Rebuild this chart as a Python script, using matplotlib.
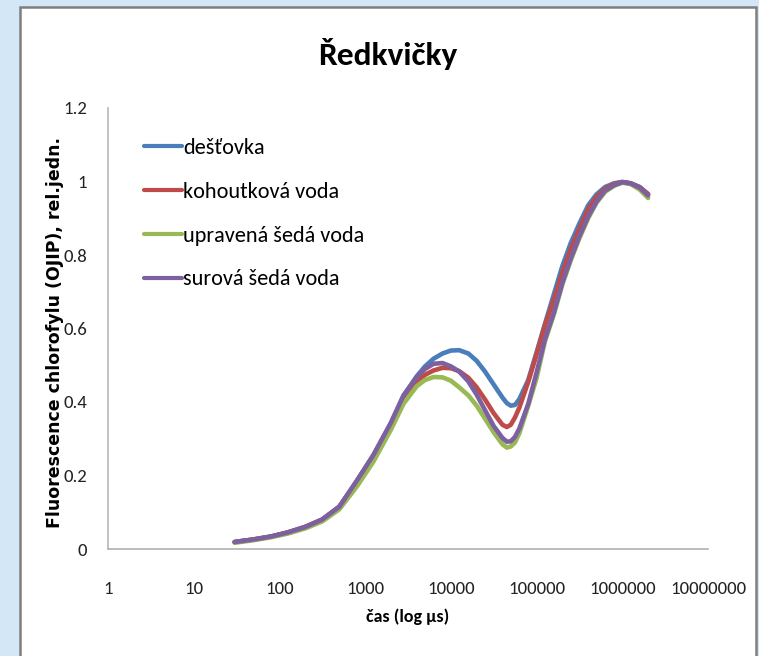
import numpy as np
import matplotlib
matplotlib.use('Agg')
from matplotlib import pyplot as plt
from matplotlib.patches import Rectangle

plt.rcParams['font.family'] = ['Carlito', 'Liberation Sans', 'DejaVu Sans']

# time (us) and relative fluorescence
time_us = [30, 50, 80, 125, 200, 315, 500, 800, 1250, 2000, 2800, 4000, 5000, 6300, 8000,
           10000, 12500, 16000, 20000, 25000, 31500, 40000, 45000, 50000, 56000, 63000,
           80000, 100000, 125000, 160000, 200000, 250000, 315000, 400000, 500000, 630000,
           800000, 1000000, 1250000, 1600000, 2000000]

destovka = [0.019, 0.026, 0.034, 0.045, 0.060, 0.080, 0.115, 0.184, 0.255, 0.342, 0.416,
            0.470, 0.497, 0.518, 0.532, 0.540, 0.541, 0.532, 0.512, 0.483, 0.448, 0.412,
            0.397, 0.390, 0.392, 0.408, 0.460, 0.535, 0.612, 0.695, 0.770, 0.832, 0.885,
            0.935, 0.965, 0.985, 0.995, 0.999, 0.995, 0.985, 0.965]

kohoutkova = [0.019, 0.026, 0.034, 0.045, 0.060, 0.080, 0.115, 0.184, 0.254, 0.340, 0.410,
              0.455, 0.474, 0.486, 0.493, 0.492, 0.484, 0.466, 0.440, 0.407, 0.370, 0.338,
              0.332, 0.338, 0.358, 0.385, 0.455, 0.530, 0.608, 0.680, 0.752, 0.815, 0.870,
              0.925, 0.958, 0.980, 0.993, 0.998, 0.995, 0.984, 0.966]

upravena = [0.017, 0.024, 0.032, 0.042, 0.056, 0.075, 0.108, 0.170, 0.238, 0.325, 0.395,
            0.443, 0.460, 0.468, 0.467, 0.458, 0.440, 0.418, 0.390, 0.355, 0.318, 0.285,
            0.276, 0.279, 0.290, 0.315, 0.390, 0.465, 0.565, 0.640, 0.720, 0.785, 0.845,
            0.900, 0.942, 0.972, 0.988, 0.997, 0.993, 0.978, 0.955]

surova = [0.019, 0.026, 0.034, 0.045, 0.060, 0.080, 0.115, 0.186, 0.256, 0.344, 0.418,
          0.468, 0.490, 0.504, 0.506, 0.497, 0.483, 0.456, 0.420, 0.378, 0.335, 0.302,
          0.292, 0.293, 0.305, 0.328, 0.395, 0.480, 0.570, 0.645, 0.725, 0.790, 0.850,
          0.905, 0.945, 0.975, 0.990, 0.998, 0.995, 0.983, 0.962]

labels = ['dešťovka', 'kohoutková voda', 'upravená šedá voda', 'surová šedá voda']
colors = ['#4A7EBB', '#BE4B48', '#98B954', '#7D60A0']
xticks = [1, 10, 100, 1000, 10000, 100000, 1000000, 10000000]
yticks = [0, 0.2, 0.4, 0.6, 0.8, 1, 1.2]

fig = plt.figure(figsize=(7.59, 6.56), dpi=100)
fig.patch.set_facecolor('#d3e7f7')

# white chart area with grey frame
fig.patches.append(Rectangle((20 / 759, -0.01), 736 / 759, 1 - 7 / 656 + 0.01,
                             transform=fig.transFigure, facecolor='white',
                             edgecolor='#7f7f7f', linewidth=1.8, zorder=-10))

ax = fig.add_axes([108 / 759, 107 / 656, 600 / 759, 441 / 656])
ax.set_facecolor('none')

for v, lab, c in zip([destovka, kohoutkova, upravena, surova], labels, colors):
    ax.plot(time_us, v, color=c, lw=3.3, label=lab, solid_capstyle='round',
            solid_joinstyle='round')

ax.set_xscale('log')
ax.set_xlim(1, 10000000)
ax.set_ylim(0, 1.2)
ax.set_xticks(xticks)
ax.set_xticklabels([str(x) for x in xticks])
ax.minorticks_off()
ax.set_yticks(yticks)
ax.set_yticklabels(['0', '0.2', '0.4', '0.6', '0.8', '1', '1.2'])
ax.tick_params(axis='both', length=0, labelsize=13.5, colors='#222222')
ax.tick_params(axis='x', pad=23)
ax.tick_params(axis='y', pad=15)

for s in ['top', 'right']:
    ax.spines[s].set_visible(False)
ax.spines['left'].set_color('#b8b8b8')
ax.spines['bottom'].set_color('#b0b0b0')
ax.spines['left'].set_linewidth(1.2)
ax.spines['bottom'].set_linewidth(1.2)

ax.set_xlabel('čas (log µs)', fontsize=13, fontweight='bold')
ax.xaxis.set_label_coords(0.5, -0.135)
ax.set_ylabel('Fluorescence chlorofylu (OJIP), rel.jedn.', fontsize=12.5, fontweight='bold',
              family=['DejaVu Sans'])
ax.yaxis.set_label_coords(-0.074, 0.49)

fig.text(388 / 759, 1 - 54 / 656, 'Ředkvičky', fontsize=24, fontweight='bold',
         ha='center', va='center')

leg = ax.legend(loc='upper left', bbox_to_anchor=(144 / 759, 1 - 138 / 656),
                bbox_transform=fig.transFigure, frameon=False, fontsize=16,
                handlelength=1.72, handletextpad=0.05, labelspacing=1.07,
                borderaxespad=0, borderpad=0)
for h in leg.get_lines():
    h.set_linewidth(3)

fig.savefig('out.png', dpi=100, facecolor=fig.get_facecolor())
